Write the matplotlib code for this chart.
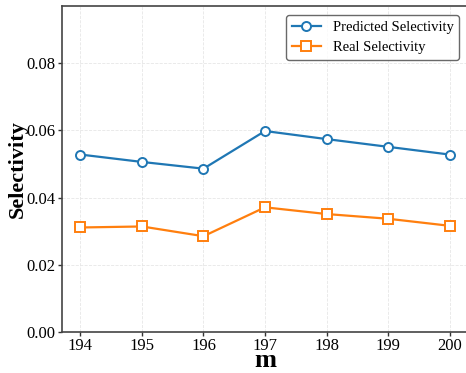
import numpy as np
import matplotlib.pyplot as plt

plt.rcParams['font.family'] = 'Liberation Serif'
plt.rcParams['mathtext.fontset'] = 'stix'

# Selectivity against m
m_vals = [194, 195, 196, 197, 198, 199, 200]
predicted = [0.0528, 0.0506, 0.0486, 0.0598, 0.0574, 0.0551, 0.0528]
real = [0.0311, 0.0314, 0.0285, 0.0371, 0.0351, 0.0337, 0.0316]

fig = plt.figure(figsize=(4.66, 3.73), dpi=100)
ax = fig.add_axes([62 / 466, 41 / 373, 406 / 466, 326 / 373])

ax.plot(m_vals, predicted, color='#1f77b4', lw=1.6, marker='o', ms=6.5,
        mfc='white', mew=1.4, label='Predicted Selectivity')
ax.plot(m_vals, real, color='#ff7f0e', lw=1.6, marker='s', ms=6.5,
        mfc='white', mew=1.4, label='Real Selectivity')

ax.set_xlim(193.7, 200.3)
ax.set_ylim(0, 0.097)
ax.set_xticks(m_vals)
ax.set_yticks([0.0, 0.02, 0.04, 0.06, 0.08])
ax.set_yticklabels(['0.00', '0.02', '0.04', '0.06', '0.08'])
ax.tick_params(labelsize=12, length=3, width=1, pad=1.5, color='#333333')
ax.grid(True, ls='--', lw=0.6, color='#e6e6e6')
ax.set_axisbelow(True)
for s in ax.spines.values():
    s.set_color('#444444')
    s.set_linewidth(1.2)

ax.set_xlabel('m', fontsize=19, fontweight='bold', labelpad=-4)
ax.set_ylabel('Selectivity', fontsize=16, fontweight='bold', labelpad=-1)
ax.legend(loc='upper right', fontsize=10.5, frameon=True, edgecolor='#444444',
          fancybox=True, borderpad=0.4, handlelength=2.0, borderaxespad=0.6)

fig.savefig('out.png', dpi=100)
